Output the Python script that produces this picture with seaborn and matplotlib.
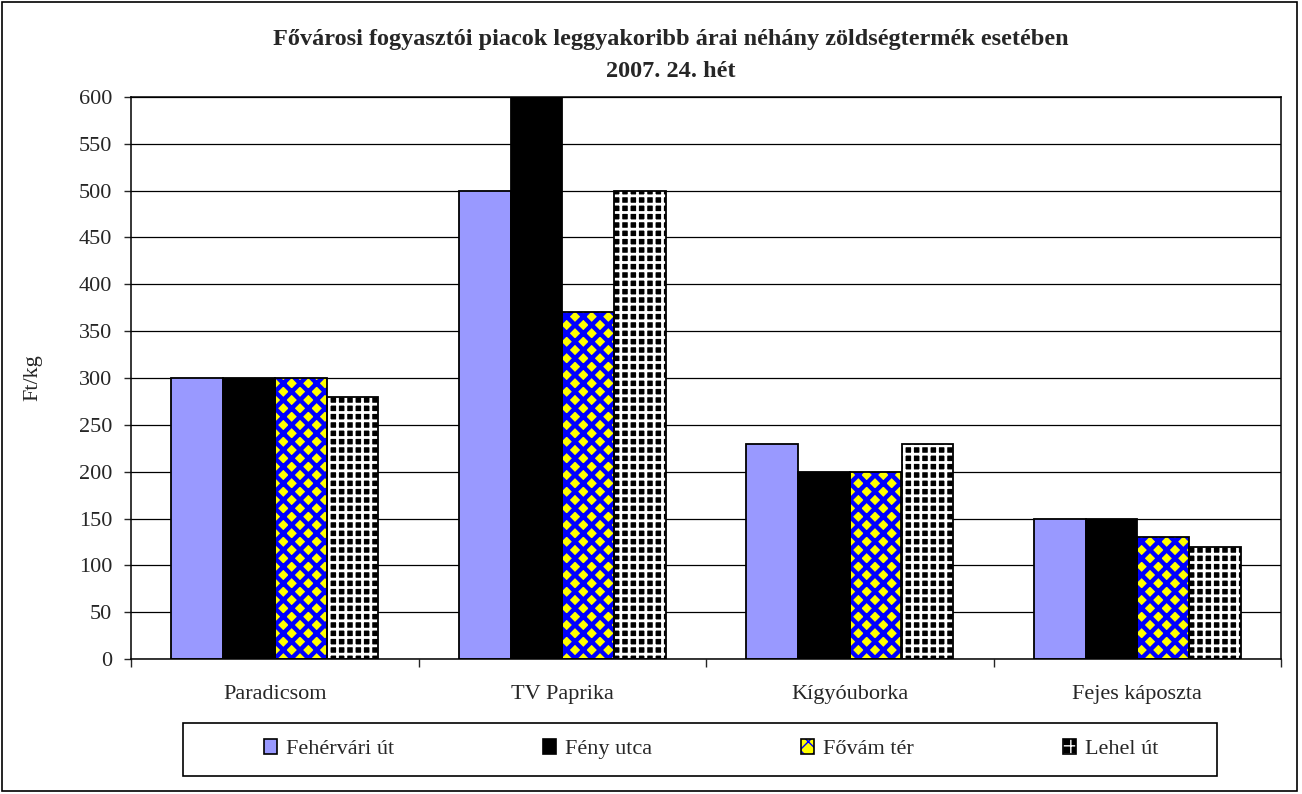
import matplotlib
matplotlib.use("Agg")
import matplotlib.pyplot as plt
from matplotlib.patches import Patch, Rectangle
from matplotlib.legend_handler import HandlerTuple
import pandas as pd
import seaborn as sns

categories = ['Paradicsom', 'TV Paprika', 'Kígyóuborka', 'Fejes káposzta']
markets = ['Fehérvári út', 'Fény utca', 'Fővám tér', 'Lehel út']
fehervari = [300, 500, 230, 150]
feny = [300, 600, 200, 150]
fovam = [300, 370, 200, 130]
lehel = [280, 500, 230, 120]

title_1 = 'Fővárosi fogyasztói piacok leggyakoribb árai néhány zöldségtermék esetében'
title_2 = '2007. 24. hét'
y_ticks = list(range(0, 650, 50))

# face, hatch colour, hatch, hatch width
styles = {
    'Fehérvári út': ('#9999ff', '#9999ff', '', 1.0),
    'Fény utca': ('black', 'black', '', 1.0),
    'Fővám tér': ('#ffff00', '#0000ff', 'xx', 3.2),
    'Lehel út': ('black', 'white', '++', 2.0),
}

rows = []
for market, vals in zip(markets, [fehervari, feny, fovam, lehel]):
    for cat, v in zip(categories, vals):
        rows.append({'termek': cat, 'piac': market, 'ar': v})
df = pd.DataFrame(rows)

sns.set_style("white")
plt.rcParams['font.family'] = ['Liberation Serif', 'DejaVu Serif']

W, H = 1302, 794
fig = plt.figure(figsize=(W / 100, H / 100), dpi=100)
ax = fig.add_axes([131 / W, 1 - 659 / H, 1150 / W, 562 / H])

sns.barplot(data=df, x='termek', y='ar', hue='piac', order=categories, hue_order=markets,
            width=0.72, errorbar=None, ax=ax, legend=False, linewidth=0, saturation=1)


def style_patch(p, market, cap=None):
    face, hcol, hatch, hlw = styles[market]
    p.set_facecolor(face)
    p.set_edgecolor(hcol)
    p.set_hatch(hatch)
    p.set_linewidth(0)
    if cap is not None:
        hlw = min(hlw, cap)
    if hasattr(p, 'set_hatch_linewidth'):
        p.set_hatch_linewidth(hlw)
    else:
        p._hatch_linewidth = hlw


for cont, market in zip(ax.containers, markets):
    for p in cont:
        style_patch(p, market)

# black outlines on top of the hatched bars
sns.barplot(data=df, x='termek', y='ar', hue='piac', order=categories, hue_order=markets,
            width=0.72, errorbar=None, ax=ax, legend=False, fill=False,
            edgecolor='black', linewidth=1.3)

ax.set_ylim(0, 600)
ax.set_xlim(-0.5, 3.5)
ax.set_yticks(y_ticks)
ax.yaxis.grid(True, color='black', linewidth=0.9)
ax.set_axisbelow(True)
for s in ax.spines.values():
    s.set_color('black')
    s.set_linewidth(1.1)
ax.tick_params(axis='y', labelsize=16, direction='out', length=5, width=1, left=True, pad=8.5)
ax.tick_params(axis='x', which='major', labelsize=16, length=0, pad=19)
ax.set_xticks([-0.5, 0.5, 1.5, 2.5, 3.5], minor=True)
ax.tick_params(axis='x', which='minor', direction='out', length=5.5, width=1, bottom=True)
ax.set_xlabel('')
ax.set_ylabel('Ft/kg', fontsize=16)
ax.yaxis.set_label_coords(-0.077, 0.5)

fig.text(671 / W, 1 - 45 / H, title_1, ha='center', va='baseline', fontsize=17.5, fontweight='bold')
fig.text(671 / W, 1 - 77 / H, title_2, ha='center', va='baseline', fontsize=17.5, fontweight='bold')

# legend
handles = []
for market in markets:
    inner = Patch()
    style_patch(inner, market, cap=2.0)
    outer = Patch(facecolor='none', edgecolor='black', linewidth=1.2)
    handles.append((inner, outer))
fig.legend(handles, markets, loc='center', bbox_to_anchor=(711 / W, 1 - 749 / H),
           ncol=4, frameon=False, fontsize=16, handlelength=0.6, handleheight=0.7,
           handletextpad=0.4, columnspacing=6.7, handler_map={tuple: HandlerTuple(ndivide=1)})
fig.patches.append(Rectangle((183 / W, 1 - 776 / H), 1034 / W, 53 / H,
                             transform=fig.transFigure, fill=False, edgecolor='black', linewidth=1.2))
fig.patches.append(Rectangle((2 / W, 3 / H), 1295 / W, 789 / H,
                             transform=fig.transFigure, fill=False, edgecolor='black', linewidth=1.2))

fig.savefig('out.png', dpi=100)
